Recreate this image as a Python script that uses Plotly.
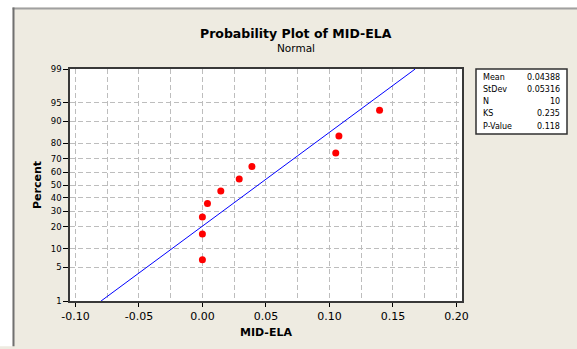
import plotly.graph_objects as go
from statistics import NormalDist

# ---- data ----
mid_ela = [0.0, 0.0, 0.0, 0.004, 0.0145, 0.029, 0.039, 0.105, 0.1075, 0.1395]
percent = [6.7, 16.3, 26.0, 35.6, 45.2, 54.8, 64.4, 74.0, 83.7, 93.3]
mean = 0.04388
stdev = 0.05316
line_percent = [1, 99]
percent_ticks = [1, 5, 10, 20, 30, 40, 50, 60, 70, 80, 90, 95, 99]
x_ticks = [-0.10, -0.05, 0.00, 0.05, 0.10, 0.15, 0.20]
x_tick_labels = ["-0.10", "-0.05", "0.00", "0.05", "0.10", "0.15", "0.20"]
stat_names = ["Mean", "StDev", "N", "KS", "P-Value"]
stat_values = ["0.04388", "0.05316", "10", "0.235", "0.118"]

nd = NormalDist()
z = lambda p: nd.inv_cdf(p / 100.0)

W, H = 577, 349
L, R, T, B = 70, 115, 69, 44
PW, PH = W - L - R, H - T - B


def px(xp):
    return (xp - L) / PW


def py(yp):
    return (H - B - yp) / PH


FONT = "DejaVu Sans"
BG = "#EEEBE1"
GRID = "#BDBDBD"

fig = go.Figure()

line_x = [mean + stdev * z(p) for p in line_percent]
fig.add_trace(go.Scatter(x=line_x, y=[z(p) for p in line_percent], mode="lines",
                         line=dict(color="#0000FF", width=1), hoverinfo="skip"))
fig.add_trace(go.Scatter(x=mid_ela, y=[z(p) for p in percent], mode="markers",
                         marker=dict(color="#FF0000", size=7), hoverinfo="skip"))

grid = dict(showgrid=True, gridcolor=GRID, griddash="5px,3px", gridwidth=1)

fig.update_xaxes(range=[-0.10425, 0.20441], tickvals=x_ticks, ticktext=x_tick_labels,
                 ticks="outside", ticklen=4, tickcolor="#000000",
                 tickfont=dict(family=FONT, size=11, color="#000000"),
                 showline=True, mirror=True, linecolor="#383838", linewidth=1.5,
                 zeroline=False, **grid,
                 minor=dict(dtick=0.025, tick0=0, showgrid=True, gridcolor=GRID,
                            griddash="5px,3px", ticks=""),
                 title=dict(text="<b>MID-ELA</b>", font=dict(family=FONT, size=11, color="#000000"),
                            standoff=6))
fig.update_yaxes(range=[z(1), z(99)], tickvals=[z(p) for p in percent_ticks],
                 ticktext=[str(p) for p in percent_ticks],
                 ticks="outside", ticklen=5, tickcolor="#000000",
                 tickfont=dict(family=FONT, size=8.5, color="#000000"),
                 showline=True, mirror=True, linecolor="#383838", linewidth=1.5,
                 zeroline=False, **grid,
                 title=dict(text="<b>Percent</b>", font=dict(family=FONT, size=11, color="#000000"),
                            standoff=7))

shapes = [
    # white strips outside the window frame
    dict(type="rect", xref="paper", yref="paper", x0=px(-2), x1=px(W + 2), y0=py(-2), y1=py(6.5),
         fillcolor="#FFFFFF", line=dict(width=0), layer="above"),
    dict(type="rect", xref="paper", yref="paper", x0=px(-2), x1=px(12.5), y0=py(-2), y1=py(H + 2),
         fillcolor="#FFFFFF", line=dict(width=0), layer="above"),
    dict(type="line", xref="paper", yref="paper", x0=px(12.5), x1=px(W + 2), y0=py(7.5), y1=py(7.5),
         line=dict(color="#A0A0A0", width=2), layer="above"),
    dict(type="line", xref="paper", yref="paper", x0=px(13.5), x1=px(13.5), y0=py(6.5), y1=py(H + 2),
         line=dict(color="#707070", width=2), layer="above"),
    # stats box
    dict(type="rect", xref="paper", yref="paper", x0=px(476), x1=px(567), y0=py(69), y1=py(135),
         fillcolor="#FFFFFF", line=dict(color="#303030", width=1.5)),
]

annotations = [
    dict(text="<b>Probability Plot of MID-ELA</b>", x=px(296), y=py(32.5), xref="paper", yref="paper",
         showarrow=False, xanchor="center", yanchor="middle",
         font=dict(family=FONT, size=12.5, color="#000000")),
    dict(text="Normal", x=px(296), y=py(47.5), xref="paper", yref="paper",
         showarrow=False, xanchor="center", yanchor="middle",
         font=dict(family=FONT, size=10.5, color="#000000")),
]
row_y = [77.7, 89.9, 102.5, 114.7, 127.2]
for name, val, ry in zip(stat_names, stat_values, row_y):
    annotations.append(dict(text=name, x=px(481), y=py(ry), xref="paper", yref="paper",
                            showarrow=False, xanchor="left", yanchor="middle",
                            font=dict(family=FONT, size=8, color="#000000")))
    annotations.append(dict(text=val, x=px(562), y=py(ry), xref="paper", yref="paper",
                            showarrow=False, xanchor="right", yanchor="middle",
                            font=dict(family=FONT, size=8, color="#000000")))

fig.update_layout(width=W, height=H, margin=dict(l=L, r=R, t=T, b=B, pad=0),
                  paper_bgcolor=BG, plot_bgcolor="#FFFFFF", showlegend=False,
                  shapes=shapes, annotations=annotations)

fig.write_html("out.html")
